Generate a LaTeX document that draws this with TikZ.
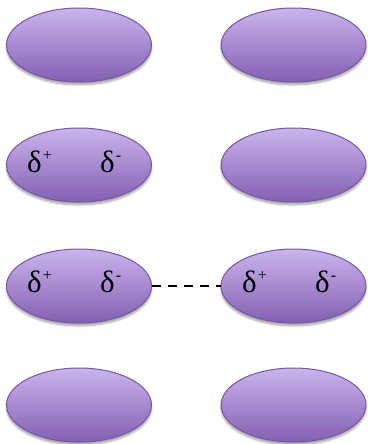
\documentclass[tikz,border=0pt]{standalone}
\usepackage{fontspec}
\setmainfont{Liberation Serif}
\usetikzlibrary{shapes.geometric,shadows.blur}
\definecolor{ltop}{HTML}{CAB4EC}
\definecolor{lbot}{HTML}{8260B2}
\definecolor{lrim}{HTML}{7656A6}
\newcommand{\dsup}[1]{δ\hspace{1pt}\raisebox{12pt}{\fontsize{16}{18}\selectfont #1}}
\tikzset{
  blob/.style={ellipse, draw=lrim, line width=1pt, top color=ltop, bottom color=lbot,
    minimum width=145pt, minimum height=74pt, inner sep=0pt,
    blur shadow={shadow xshift=0pt, shadow yshift=-3pt, shadow blur steps=6, shadow opacity=35}},
  dlabel/.style={font=\fontsize{31}{34}\selectfont, inner sep=0pt, anchor=base west},
  bond/.style={line width=2pt, dash pattern=on 9pt off 7pt}
}
\begin{document}
\begin{tikzpicture}[x=1pt,y=-1pt]
\useasboundingbox (0,0) rectangle (367,444);
\node[blob] (a1) at (79,45) {};
\node[blob] (b1) at (293.5,45) {};
\node[blob] (a2) at (79,165) {};
\node[blob] (b2) at (293.5,165) {};
\node[blob] (a3) at (79,286) {};
\node[blob] (b3) at (293.5,286) {};
\node[blob] (a4) at (79,405) {};
\node[blob] (b4) at (293.5,405) {};
\node[dlabel] (a2p) at (27,172) {\dsup{+}};
\node[dlabel] (a2m) at (100,172) {\dsup{-}};
\node[dlabel] (a3p) at (27,292) {\dsup{+}};
\node[dlabel] (a3m) at (100,292) {\dsup{-}};
\node[dlabel] (b3p) at (242,292) {\dsup{+}};
\node[dlabel] (b3m) at (315,292) {\dsup{-}};
\draw[bond] (a3.east) -- (b3.west);
\end{tikzpicture}
\end{document}
